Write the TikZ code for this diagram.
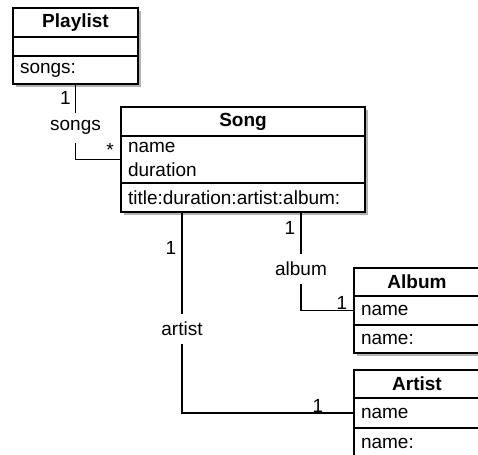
\documentclass[tikz,border=0pt]{standalone}
\usepackage{fontspec}
\setmainfont{Liberation Sans}
\usetikzlibrary{positioning, shadows}
\newcommand\umlfont{\fontsize{19}{23.5}\selectfont}

\begin{document}
\begin{tikzpicture}[x=1pt, y=-1pt, line width=1.7pt, font=\umlfont,
    classbox/.style={draw, fill=white, text width=#1, inner xsep=7pt, inner ysep=0pt,
      outer sep=0pt, drop shadow={shadow xshift=3pt, shadow yshift=-3pt, fill=black, opacity=0.3}},
    classhead/.style={classbox=#1, font=\umlfont\bfseries, align=center, anchor=north west},
    classpart/.style={classbox=#1, align=left},
    rolelabel/.style={fill=white, inner xsep=2pt, inner ysep=8pt},
    mult/.style={inner sep=0pt}]
  \useasboundingbox (0,0) rectangle (478,454);

  % classes
  \node[classhead=111, minimum height=29pt] (plhead) at (13,8) {Playlist};
  \node[classpart=111, minimum height=19pt, below=0pt of plhead] (plattr) {};
  \node[classpart=111, minimum height=28pt, below=0pt of plattr] (plops) {songs:};

  \node[classhead=230, minimum height=29pt] (songhead) at (121,107) {Song};
  \node[classpart=230, minimum height=47pt, below=0pt of songhead] (songattr) {name\\duration};
  \node[classpart=230, minimum height=29pt, below=0pt of songattr] (songops) {title:duration:artist:album:};

  \node[classhead=112, minimum height=28pt] (albhead) at (354,268) {Album};
  \node[classpart=112, minimum height=29pt, below=0pt of albhead] (albattr) {name};
  \node[classpart=112, minimum height=28pt, below=0pt of albattr] (albops) {name:};

  \node[classhead=112, minimum height=28pt] (arthead) at (354,370) {Artist};
  \node[classpart=112, minimum height=30pt, below=0pt of arthead] (artattr) {name};
  \node[classpart=112, minimum height=30pt, below=0pt of artattr] (artops) {name:};

  % associations
  \draw (plops.south) |- node[pos=0.09, left=4pt, mult] {1}
    node[pos=0.29, rolelabel] {songs} node[pos=0.88, above=2pt, mult] {*} (songattr.west);
  \draw ([xshift=180pt]songops.south west) |- node[pos=0.08, left=5pt, mult] {1}
    node[pos=0.29, rolelabel] {album} node[pos=0.887, above, mult] {1} (albattr.west);
  \draw ([xshift=61pt]songops.south west) |- node[pos=0.09, left=5pt, mult] {1}
    node[pos=0.29, rolelabel] {artist} node[pos=0.895, above, mult] {1} (artattr.west);
\end{tikzpicture}
\end{document}
